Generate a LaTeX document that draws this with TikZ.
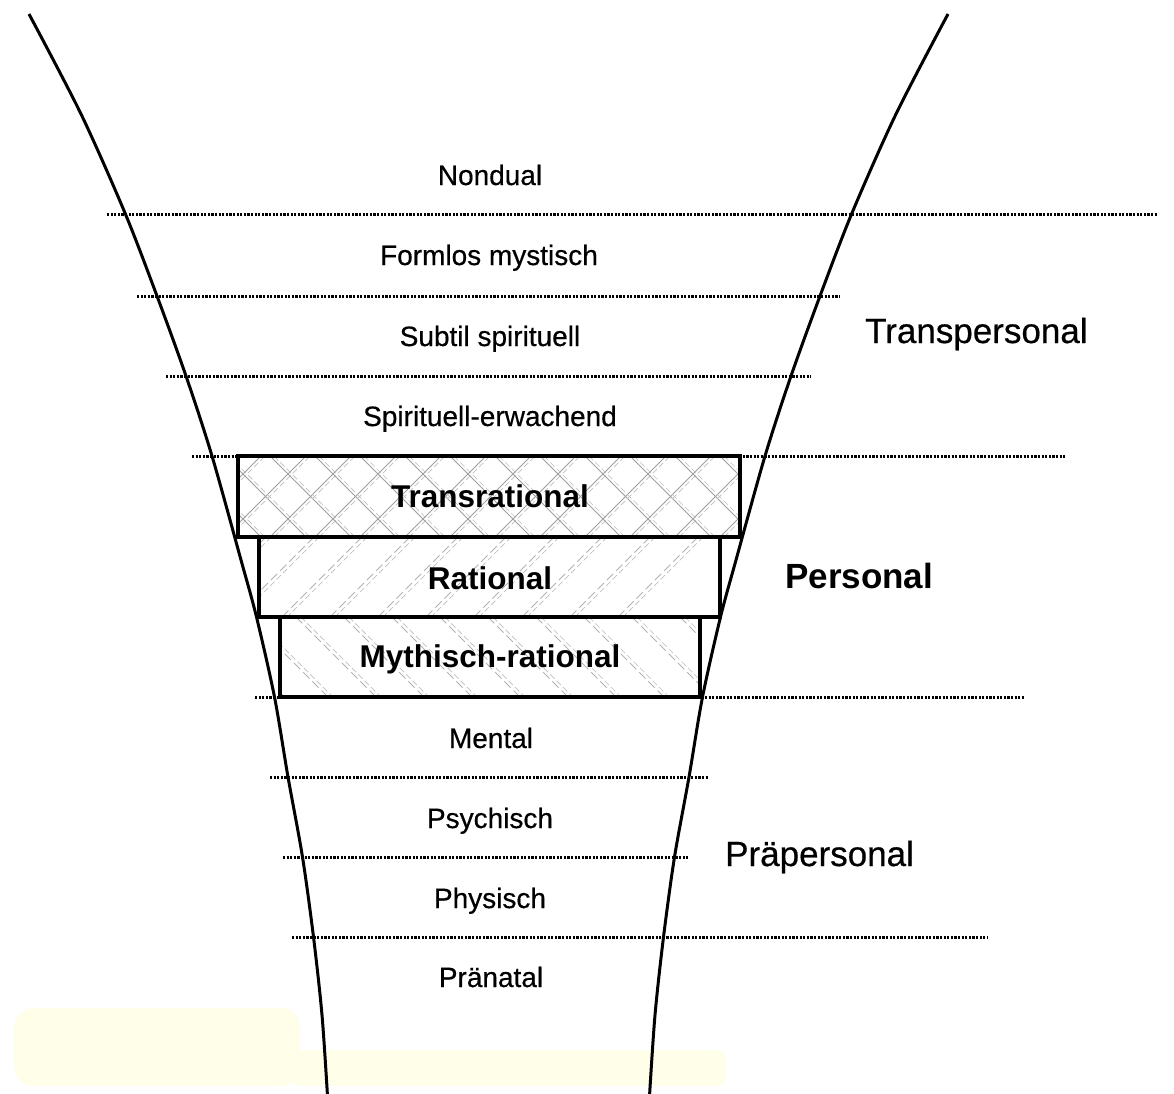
\documentclass[tikz,border=0pt]{standalone}
\usepackage{fontspec}
\setmainfont{Liberation Sans}[FakeBold=0.5]
\newfontfamily\boldface{Liberation Sans Bold}
\definecolor{stain}{RGB}{255,254,232}
\begin{document}
\begin{tikzpicture}[x=1pt,y=-1pt,
  lvl/.style={inner sep=0pt, anchor=base, font=\fontsize{28}{32}\selectfont},
  stlbl/.style={inner sep=0pt, anchor=base, font=\fontsize{31.5}{34}\selectfont\boldface},
  grp/.style={inner sep=0pt, anchor=base west, font=\fontsize{35}{38}\selectfont},
  grpbold/.style={inner sep=0pt, anchor=base west, font=\fontsize{35}{38}\selectfont\boldface},
  dotline/.style={line width=3pt, dash pattern=on 2.2pt off 1.4pt},
  funnel/.style={line width=3pt},
  stagebox/.style={line width=3.4pt},
  hatchA/.style={gray!75, line width=0.9pt},
  hatchB/.style={gray!50, line width=0.7pt, dash pattern=on 6pt off 3pt},
  hatchC/.style={gray!60, line width=0.8pt, dash pattern=on 9pt off 4pt}]

\useasboundingbox (0,0) rectangle (1174,1093);
\fill[white] (0,0) rectangle (1174,1093);
% faint scan stain at the bottom
\fill[stain, rounded corners=20pt] (14,1008) rectangle (300,1086);
\fill[stain, rounded corners=10pt] (290,1050) rectangle (726,1086);

% dotted level lines
\draw[dotline] (107,214) -- (1158,214);
\draw[dotline] (137,296) -- (840,296);
\draw[dotline] (166,376) -- (811,376);
\draw[dotline] (192,456) -- (1066,456);
\draw[dotline] (255,697) -- (1025,697);
\draw[dotline] (270,777) -- (708,777);
\draw[dotline] (283,857) -- (688,857);
\draw[dotline] (292,937) -- (987,937);

% Transrational box (cross hatch)
\fill[white] (238,456) rectangle (740,537);
\begin{scope}
  \clip (238,456) rectangle (740,537);
  \foreach \i in {-90,-45,...,760} {
    \draw[hatchA] (\i,456) -- ++(81,81);
    \draw[hatchA] (\i,537) -- ++(81,-81);
    \draw[hatchB] (\i+4,456) -- ++(81,81);
    \draw[hatchB] (\i+4,537) -- ++(81,-81);
  }
\end{scope}
\draw[stagebox] (238,456) rectangle (740,537);

% Rational box (/ hatch)
\fill[white] (259,537) rectangle (720,617);
\begin{scope}
  \clip (259,537) rectangle (720,617);
  \foreach \i in {170,218,...,740} {
    \draw[hatchC] (\i,537) -- ++(-80,80);
    \draw[hatchB] (\i+5,537) -- ++(-80,80);
  }
\end{scope}
\draw[stagebox] (259,537) rectangle (720,617);

% Mythisch-rational box (\ hatch)
\fill[white] (280,617) rectangle (700,697);
\begin{scope}
  \clip (280,617) rectangle (700,697);
  \foreach \i in {200,248,...,720} {
    \draw[hatchC] (\i,617) -- ++(80,80);
    \draw[hatchB] (\i+5,617) -- ++(80,80);
  }
\end{scope}
\draw[stagebox] (280,617) rectangle (700,697);

% funnel outline
\draw[funnel] plot[smooth] coordinates {(29,14) (81,114) (125,213) (157,296) (186,376) (212,456) (241,560) (256.5,617) (274.5,697) (288,777) (302.5,857) (313.5,937) (322,1015) (327.5,1096)};
\draw[funnel] plot[smooth] coordinates {(948,14) (896,114) (852,213) (820,296) (791,376) (765,456) (736,560) (720.5,617) (702.5,697) (689,777) (674.5,857) (663.5,937) (655,1015) (649.5,1096)};

% level labels
\node[lvl] (nondual) at (490,185) {Nondual};
\node[lvl] (formlos) at (489,265) {Formlos mystisch};
\node[lvl] (subtil) at (490,346) {Subtil spirituell};
\node[lvl] (erwach) at (490,426) {Spirituell-erwachend};
\node[stlbl] (transr) at (490,507) {Transrational};
\node[stlbl] (ration) at (490,589) {Rational};
\node[stlbl] (mythr) at (490,667) {Mythisch-rational};
\node[lvl] (mental) at (491,748) {Mental};
\node[lvl] (psych) at (490,828) {Psychisch};
\node[lvl] (phys) at (490,908) {Physisch};
\node[lvl] (pranat) at (491,987) {Pränatal};

% group labels
\node[grp] (transp) at (865,343) {Transpersonal};
\node[grpbold] (person) at (785,588) {Personal};
\node[grp] (praep) at (725,866) {Präpersonal};
\end{tikzpicture}
\end{document}
